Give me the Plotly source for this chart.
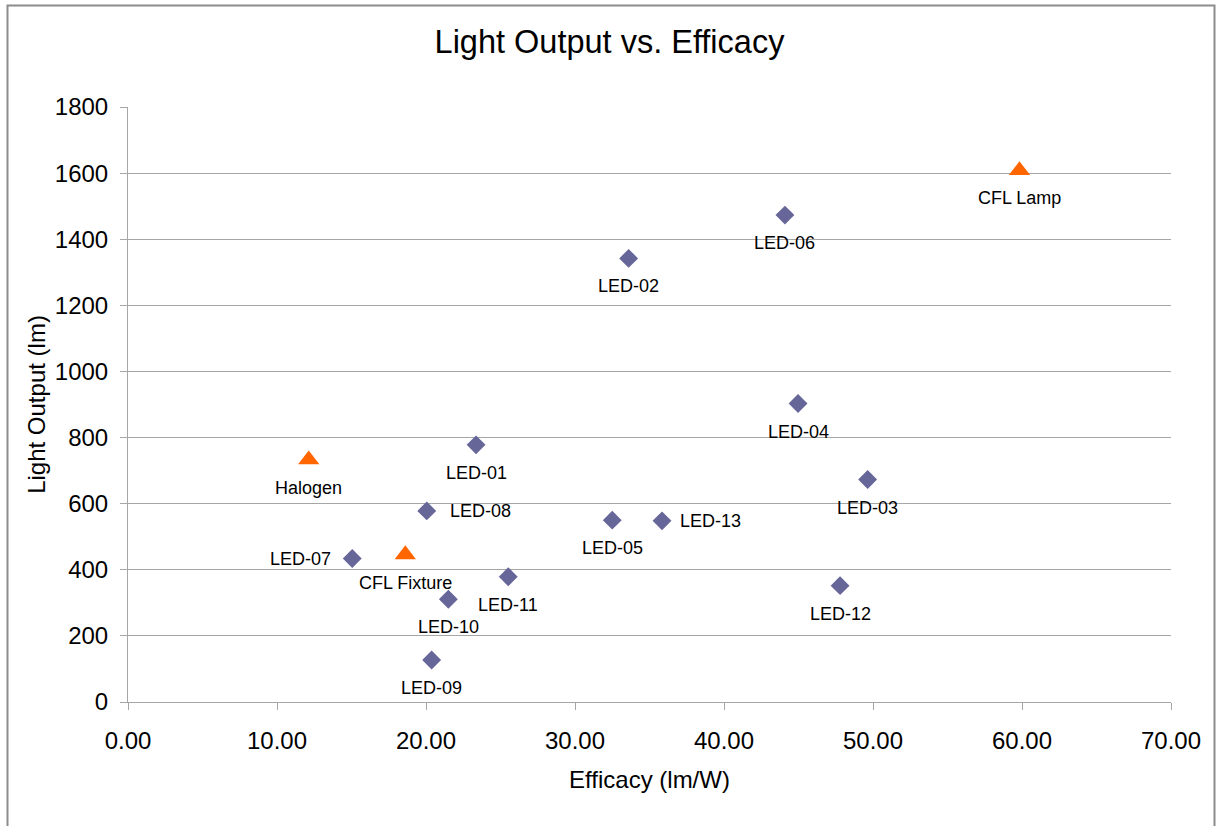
import plotly.graph_objects as go

# ---- data ----
led_names = ["LED-01", "LED-02", "LED-03", "LED-04", "LED-05", "LED-06", "LED-07",
             "LED-08", "LED-09", "LED-10", "LED-11", "LED-12", "LED-13"]
led_efficacy = [23.36, 33.60, 49.64, 44.97, 32.50, 44.09, 15.05,
                20.05, 20.38, 21.50, 25.52, 47.79, 35.84]
led_output = [778, 1342, 673, 903, 550, 1473, 434,
              578, 127, 311, 379, 352, 548]

ref_names = ["Halogen", "CFL Fixture", "CFL Lamp"]
ref_efficacy = [12.13, 18.61, 59.83]
ref_output = [733, 446, 1608]

x_ticks = [0, 10, 20, 30, 40, 50, 60, 70]
y_ticks = [0, 200, 400, 600, 800, 1000, 1200, 1400, 1600, 1800]

# label placement (style only)
label_side = {"LED-07": "left", "LED-08": "right", "LED-13": "right"}

FONT = "Liberation Sans, Arial, sans-serif"
GRID = "#a6a6a6"

fig = go.Figure()
fig.add_trace(go.Scatter(
    x=led_efficacy, y=led_output, mode="markers", name="LED",
    marker=dict(symbol="diamond", size=14.5, color="#666699", line=dict(width=0)),
    cliponaxis=False, showlegend=False))
fig.add_trace(go.Scatter(
    x=ref_efficacy, y=ref_output, mode="markers", name="Reference",
    marker=dict(symbol="triangle-up", size=18.5, color="#FF6600", line=dict(width=0)),
    cliponaxis=False, showlegend=False))

annotations = []
for n, xv, yv in list(zip(led_names, led_efficacy, led_output)) + list(zip(ref_names, ref_efficacy, ref_output)):
    side = label_side.get(n, "below")
    if side == "below":
        a = dict(xanchor="center", yanchor="middle", xshift=0, yshift=-28)
    elif side == "left":
        a = dict(xanchor="right", yanchor="middle", xshift=-19, yshift=0)
    else:
        a = dict(xanchor="left", yanchor="middle", xshift=16 if n == "LED-13" else 21, yshift=0)
    annotations.append(dict(x=xv, y=yv, xref="x", yref="y", text=n, showarrow=False,
                            font=dict(family=FONT, size=18, color="black"), **a))

fig.update_layout(
    width=1219, height=826,
    margin=dict(l=128, r=48, t=107, b=124),
    paper_bgcolor="white", plot_bgcolor="white",
    font=dict(family=FONT, color="black"),
    title=dict(text="Light Output vs. Efficacy", x=0.5, xref="container", xanchor="center",
               y=1 - 42 / 826, yref="container", yanchor="middle",
               font=dict(family=FONT, size=32.5, color="black")),
    annotations=annotations,
    shapes=[dict(type="rect", xref="paper", yref="paper",
                 x0=(7.5 - 128) / 1043, x1=(1214.5 - 128) / 1043,
                 y0=(702 - 840) / 595, y1=(702 - 5.5) / 595,
                 line=dict(color="#8c8c8c", width=2), fillcolor="rgba(0,0,0,0)", layer="below")],
)
fig.update_xaxes(
    range=[0, 70], tickvals=x_ticks, tickformat=".2f",
    showgrid=False, zeroline=False,
    showline=True, linecolor=GRID, linewidth=1,
    ticks="outside", ticklen=7, tickcolor=GRID, tickwidth=1,
    ticklabelstandoff=10,
    tickfont=dict(family=FONT, size=24, color="black"),
    title=dict(text="Efficacy (lm/W)", font=dict(family=FONT, size=24, color="black"), standoff=18),
)
fig.update_yaxes(
    range=[0, 1800], tickvals=y_ticks,
    showgrid=True, gridcolor=GRID, gridwidth=1, zeroline=False,
    showline=True, linecolor=GRID, linewidth=1,
    ticks="outside", ticklen=7, tickcolor=GRID, tickwidth=1,
    ticklabelstandoff=7,
    tickfont=dict(family=FONT, size=24, color="black"),
    title=dict(text="Light Output (lm)", font=dict(family=FONT, size=24, color="black"), standoff=2),
)

fig.write_html("out.html")
